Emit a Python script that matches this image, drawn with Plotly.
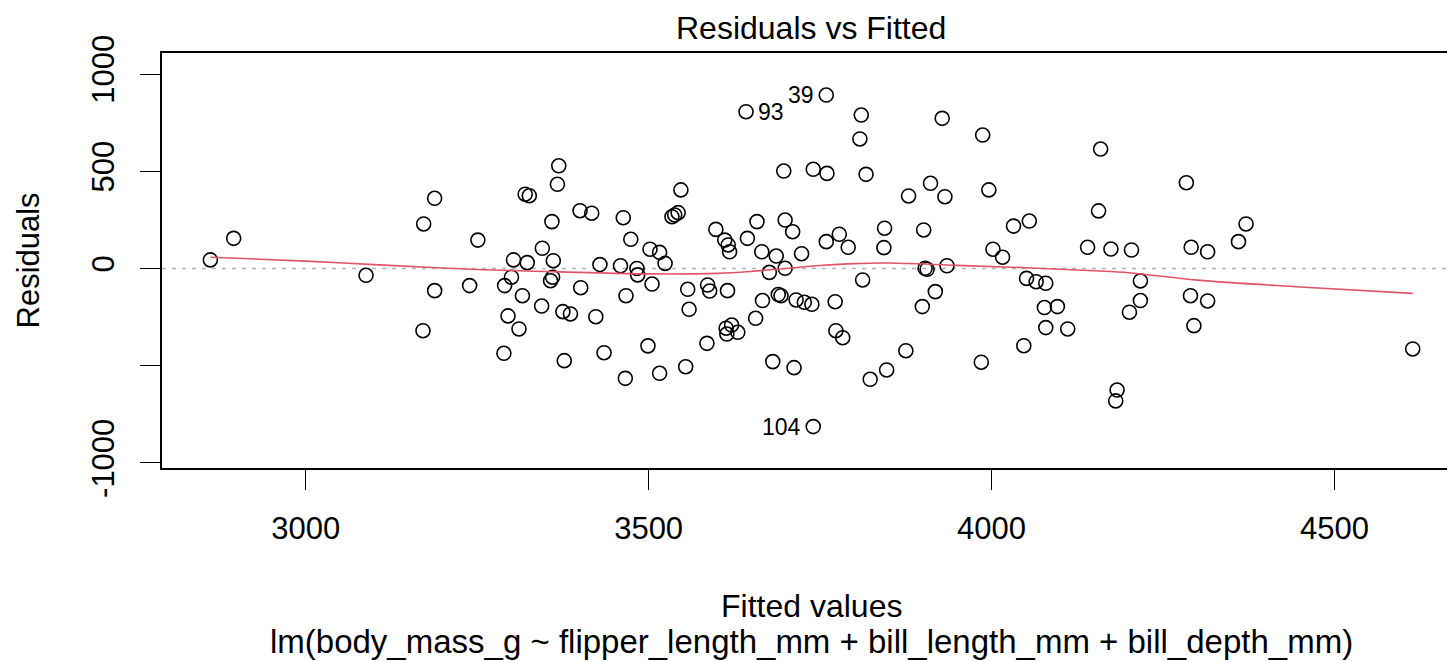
import plotly.graph_objects as go

# Fitted values and residuals
fitted = [2861, 2895, 3088, 3172, 3188, 3188, 3171, 3239, 3251, 3290,
          3289, 3295, 3300, 3303, 3311, 3316, 3320, 3326, 3323, 3345,
          3344, 3359, 3361, 3360, 3357, 3367, 3369, 3375, 3386, 3377,
          3400, 3401, 3417, 3423, 3429, 3435, 3459, 3463, 3467, 3466,
          3474, 3483, 3484, 3502, 3499, 3505, 3516, 3516, 3524, 3534,
          3538, 3543, 3547, 3557, 3559, 3554, 3586, 3589, 3585, 3598,
          3611, 3616, 3618, 3615, 3613, 3621, 3614, 3630, 3642, 3644,
          3656, 3658, 3665, 3666, 3676, 3686, 3689, 3693, 3681, 3697,
          3699, 3699, 3710, 3712, 3715, 3723, 3727, 3738, 3740, 3740,
          3759, 3760, 3759, 3778, 3772, 3773, 3783, 3791, 3810, 3808,
          3817, 3812, 3823, 3844, 3843, 3847, 3875, 3879, 3899, 3901,
          3903, 3906, 3911, 3918, 3928, 3932, 3935, 3985, 3987, 3996,
          4002, 4016, 4032, 4047, 4051, 4055, 4065, 4079, 4077, 4096,
          4079, 4111, 4140, 4156, 4159, 4174, 4183, 4181, 4201, 4204,
          4217, 4217, 4284, 4290, 4291, 4295, 4315, 4315, 4360, 4371,
          4614]
residuals = [44, 155, -35, 229, 361, -114, -320, -88, 146, -88,
             -436, -244, -45, 44, -311, -140, 382, 374, 30, 104,
             -193, 241, 40, -45, -63, 433, 528, -222, -234, -474,
             297, -99, 284, -248, 20, -433, 14, 261, -140, -565,
             150, 0, -33, 99, -398, -80, 83, -539, 26, 266,
             275, 287, 404, -107, -210, -505, -85, -116, -385, 201,
             146, 121, 86, -114, -307, -291, -337, -328, 806, 155,
             -256, 241, 86, -165, -20, 64, -134, -140, -479, 501,
             249, 1, 189, -510, -162, 76, -174, -184, 510, -813,
             892, 489, 138, 176, -171, -320, -356, 109, 789, 666,
             484, -59, -570, 207, 107, -522, -423, 373, -196, 198,
             1, -4, 438, -119, 772, 369, 14, -482, 686, 404,
             99, 58, 218, -397, -51, 244, -68, -76, -201, -196,
             -304, -311, 109, 296, 614, 100, -625, -681, -225, 95,
             -64, -165, 441, -140, 109, -294, 86, -167, 138, 229,
             -414]

# Smoother
smooth_x = [2861, 3000, 3100, 3250, 3400, 3500, 3600, 3650, 3700, 3750,
            3800, 3850, 3950, 4050, 4150, 4200, 4300, 4450, 4614]
smooth_y = [58, 38, 20, -5, -20, -28, -25, -15, 0, 15,
            25, 28, 16, 4, -12, -22, -60, -95, -128]

# Labelled extreme points: (index into the arrays, label, side)
label_idx = [68, 90, 89]
label_txt = ["93", "39", "104"]
label_side = ["right", "left", "left"]

x_ticks = [3000, 3500, 4000, 4500]
y_ticks = [-1000, -500, 0, 500, 1000]
y_ticktext = ["-1000", "", "0", "500", "1000"]

FONT = "Liberation Sans, Arial, Helvetica, sans-serif"
FS = 31

fig = go.Figure()
fig.add_trace(go.Scatter(
    x=fitted, y=residuals, mode="markers",
    marker=dict(symbol="circle-open", size=14, color="black",
                line=dict(width=1.6, color="black")),
    showlegend=False, hoverinfo="x+y"))
fig.add_trace(go.Scatter(
    x=smooth_x, y=smooth_y, mode="lines",
    line=dict(color="#DF536B", width=1.6, shape="spline", smoothing=1.0),
    showlegend=False, hoverinfo="skip"))

fig.add_hline(y=0, line=dict(color="#b3b3b3", width=1.5, dash="4px,6px"), layer="below")

annotations = []
for i, t, s in zip(label_idx, label_txt, label_side):
    annotations.append(dict(
        x=fitted[i], y=residuals[i], xref="x", yref="y", text=t, showarrow=False,
        xanchor="left" if s == "right" else "right", yanchor="middle",
        xshift=10 if s == "right" else -10,
        font=dict(family=FONT, size=23, color="black")))

L, R, T, B = 162, 0, 53, 193
W, H = 1447, 661
pw, ph = W - L - R, H - T - B
cx = (811 - L) / pw

annotations.append(dict(text="Residuals vs Fitted", xref="paper", yref="paper",
                        x=cx, y=1 + (53 - 28) / ph, xanchor="center", yanchor="middle",
                        showarrow=False, font=dict(family=FONT, size=32, color="black")))
annotations.append(dict(text="Fitted values", xref="paper", yref="paper",
                        x=cx, y=-(606 - 468) / ph, xanchor="center", yanchor="middle",
                        showarrow=False, font=dict(family=FONT, size=32, color="black")))
annotations.append(dict(text="lm(body_mass_g ~ flipper_length_mm + bill_length_mm + bill_depth_mm)",
                        xref="paper", yref="paper",
                        x=cx, y=-(641 - 468) / ph, xanchor="center", yanchor="middle",
                        showarrow=False, font=dict(family=FONT, size=33, color="black")))
annotations.append(dict(text="Residuals", xref="paper", yref="paper",
                        x=(28 - L) / pw, y=0.5, xanchor="center", yanchor="middle",
                        textangle=-90, showarrow=False,
                        font=dict(family=FONT, size=FS, color="black")))

fig.update_layout(
    width=W, height=H,
    margin=dict(l=L, r=R, t=T, b=B, pad=0),
    paper_bgcolor="white", plot_bgcolor="white",
    font=dict(family=FONT, size=FS, color="black"),
    annotations=annotations,
    xaxis=dict(range=[2790.5, 4664], tickvals=x_ticks, ticks="outside", ticklen=20,
               tickwidth=1.3, tickcolor="black", showline=True, mirror=True,
               linecolor="black", linewidth=1.8, showgrid=False, zeroline=False,
               ticklabelstandoff=12, tickfont=dict(family=FONT, size=FS)),
    yaxis=dict(range=[-1026, 1108], tickvals=y_ticks, ticktext=y_ticktext,
               ticks="outside", ticklen=20, tickwidth=1.3, tickcolor="black",
               showline=True, mirror=False, linecolor="black", linewidth=1.8,
               showgrid=False, zeroline=False, tickangle=-90,
               ticklabelstandoff=14, tickfont=dict(family=FONT, size=FS)),
)

fig.write_html("out.html")
